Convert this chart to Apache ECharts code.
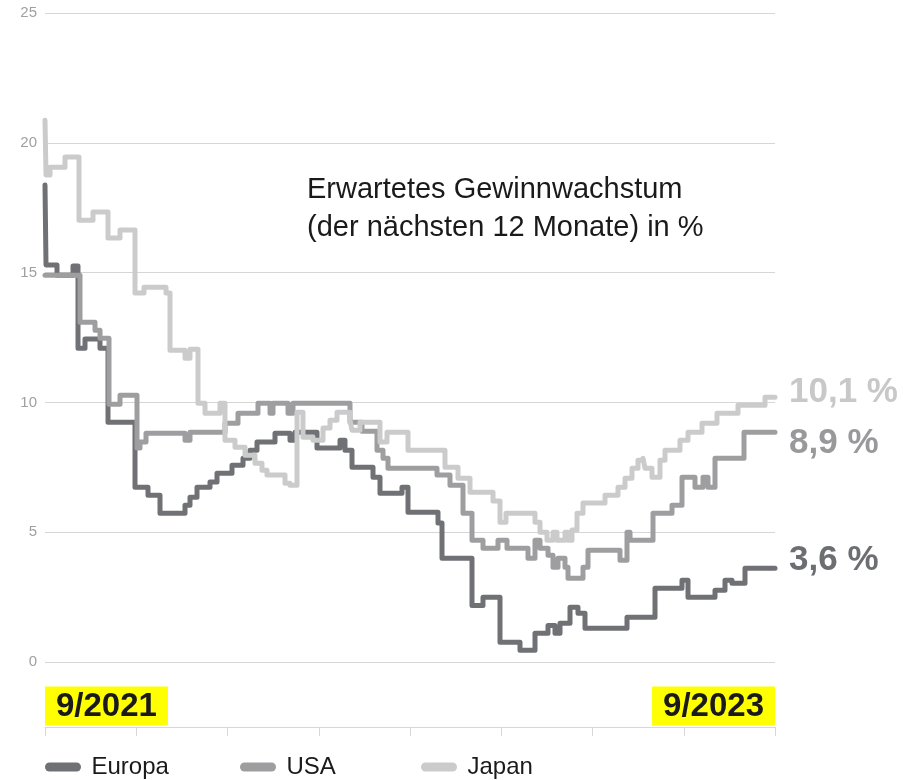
<!DOCTYPE html>
<html>
<head>
<meta charset="utf-8">
<script src="https://cdn.jsdelivr.net/npm/echarts@6/dist/echarts.min.js"></script>
<style>
  html, body { margin: 0; padding: 0; background: #fff; }
  #chart { width: 903px; height: 780px; }
</style>
</head>
<body>
<div id="chart"></div>
<script>
// x = Tage seit 9/2021 (0..730), y = erwartetes Gewinnwachstum in %
var europa = [
  [0, 18.37], [1, 15.29], [12, 14.90], [28, 15.25], [33, 12.09], [40, 12.44], [55, 12.09],
  [63, 9.24], [90, 6.73], [103, 6.42], [115, 5.73], [140, 6.04], [145, 6.35], [152, 6.73],
  [165, 6.93], [172, 7.27], [187, 7.58], [198, 7.85], [205, 8.16], [212, 8.47], [230, 8.81],
  [245, 8.54], [250, 8.85], [272, 8.24], [295, 8.54], [300, 8.16], [307, 7.50], [328, 7.12],
  [335, 6.50], [357, 6.73], [363, 5.77], [393, 5.35], [397, 4.00], [427, 2.18], [438, 2.49],
  [455, 0.76], [475, 0.45], [490, 1.11], [503, 1.41], [510, 1.11], [515, 1.49], [525, 2.11],
  [533, 1.88], [540, 1.30], [582, 1.72], [610, 2.84], [637, 3.15], [643, 2.49], [670, 2.76],
  [680, 3.15], [687, 3.03], [700, 3.61], [730, 3.61]
]
var usa = [
  [0, 14.90], [35, 13.09], [50, 12.78], [55, 12.47], [64, 9.93], [75, 10.28], [92, 8.24],
  [95, 8.47], [101, 8.81], [140, 8.54], [145, 8.85], [180, 9.20], [193, 9.58], [213, 9.97],
  [225, 9.58], [228, 9.97], [243, 9.58], [248, 9.97], [305, 9.24], [317, 8.89], [332, 8.16],
  [338, 7.85], [343, 7.46], [392, 7.20], [405, 6.81], [418, 5.73], [427, 4.69], [438, 4.38],
  [453, 4.69], [462, 4.38], [483, 4.00], [490, 4.69], [495, 4.38], [503, 4.11], [508, 3.65],
  [513, 4.00], [520, 3.65], [523, 3.23], [538, 3.65], [543, 4.30], [575, 3.92], [582, 5.00],
  [585, 4.69], [608, 5.73], [627, 6.04], [637, 7.12], [650, 6.73], [658, 7.12], [663, 6.73],
  [670, 7.85], [699, 8.85], [730, 8.85]
]
var japan = [
  [0, 20.87], [1, 18.76], [5, 19.06], [20, 19.45], [34, 17.02], [48, 17.33], [63, 16.33],
  [75, 16.64], [90, 14.21], [99, 14.44], [121, 14.21], [125, 12.01], [140, 11.70], [145, 12.05],
  [153, 9.97], [160, 9.58], [175, 9.97], [180, 8.54], [190, 8.27], [200, 7.96], [210, 7.66],
  [217, 7.39], [222, 7.20], [240, 6.89], [245, 6.81], [252, 9.62], [258, 8.66], [268, 8.54],
  [278, 9.01], [285, 9.31], [292, 9.62], [305, 9.31], [307, 8.93], [315, 9.24], [335, 8.47],
  [342, 8.85], [363, 8.16], [400, 7.50], [413, 7.08], [425, 6.54], [448, 6.20], [455, 5.38],
  [461, 5.73], [490, 5.38], [495, 5.00], [502, 4.69], [508, 5.00], [512, 4.69], [520, 5.00],
  [523, 4.69], [527, 5.08], [532, 5.73], [538, 6.12], [560, 6.42], [573, 6.73], [580, 7.08],
  [587, 7.46], [593, 7.77], [598, 7.85], [600, 7.46], [607, 7.12], [615, 7.77], [620, 8.16],
  [635, 8.54], [643, 8.85], [657, 9.20], [672, 9.58], [693, 9.89], [720, 10.20], [730, 10.20]
]
var seriesNames = ['Europa', 'USA', 'Japan']
var endLabels = ['3,6 %', '8,9 %', '10,1 %']
var periodLabels = ['9/2021', '9/2023']
var titleLines = ['Erwartetes Gewinnwachstum', '(der nächsten 12 Monate) in %']

var font = 'Liberation Sans, Arial, Helvetica, sans-serif'
var lineColors = ['#707175', '#9e9ea0', '#cbcbcb']
var labelColors = ['#6d6e72', '#99999b', '#c8c8c8']
var labelShift = [-8, 11, -5]
var legendLeft = [45, 240, 421]

var chart = echarts.init(document.getElementById('chart'))

function makeSeries(i, data) {
  return {
    name: seriesNames[i],
    type: 'line',
    step: 'end',
    data: data,
    symbol: 'none',
    showSymbol: false,
    animation: false,
    lineStyle: { width: 5, color: lineColors[i], cap: 'round', join: 'round' },
    itemStyle: { color: lineColors[i] },
    emphasis: { disabled: true },
    endLabel: {
      show: true,
      formatter: endLabels[i],
      color: labelColors[i],
      fontSize: 35,
      fontWeight: 'bold',
      fontFamily: font,
      distance: 14,
      offset: [0, labelShift[i]]
    }
  }
}

var pill = 'path://M5,0H35A5,5,0,0,1,35,10H5A5,5,0,0,1,5,0Z'

// one legend per item so each entry sits where it does in the original
var legends = seriesNames.map(function (n, i) {
  return {
    left: legendLeft[i],
    top: 755,
    padding: 0,
    itemWidth: 41,
    itemHeight: 9,
    itemGap: 7,
    selectedMode: false,
    textStyle: { fontSize: 24, color: '#1a1a1a', fontFamily: font, padding: [0, 0, 0, 3] },
    data: [{ name: n, icon: pill }]
  }
})

var option = {
  animation: false,
  backgroundColor: '#fff',
  title: {
    text: titleLines.join('\n'),
    left: 307,
    top: 171,
    padding: 0,
    textStyle: { fontSize: 29, fontWeight: 'normal', color: '#1a1a1a', lineHeight: 38, fontFamily: font }
  },
  legend: legends,
  grid: { left: 45, right: 128, top: 13, bottom: 118, containLabel: false },
  xAxis: {
    type: 'value',
    min: 0,
    max: 730,
    interval: 91.25,
    offset: 65,
    axisLine: { show: true, onZero: false, lineStyle: { color: '#d8d8d8', width: 1 } },
    axisTick: { show: true, length: 9, lineStyle: { color: '#d8d8d8' } },
    splitLine: { show: false },
    axisLabel: {
      inside: true,
      margin: 5,
      showMinLabel: true,
      showMaxLabel: true,
      alignMinLabel: 'left',
      alignMaxLabel: 'right',
      formatter: function (v) {
        if (v === 0) return '{d|' + periodLabels[0] + '}'
        if (v === 730) return '{d|' + periodLabels[1] + '}'
        return ''
      },
      rich: {
        d: {
          backgroundColor: '#ffff00',
          color: '#1a1a1a',
          fontSize: 33,
          fontWeight: 'bold',
          fontFamily: font,
          lineHeight: 32,
          padding: [4, 11, 2, 11]
        }
      }
    }
  },
  yAxis: {
    type: 'value',
    min: 0,
    max: 25,
    interval: 5,
    axisLine: { show: false },
    axisTick: { show: false },
    splitLine: { lineStyle: { color: '#d6d6d6', width: 1 } },
    axisLabel: { color: '#a0a0a0', fontSize: 15, margin: 8, fontFamily: font }
  },
  series: [makeSeries(0, europa), makeSeries(1, usa), makeSeries(2, japan)]
}

chart.setOption(option)
</script>
</body>
</html>
